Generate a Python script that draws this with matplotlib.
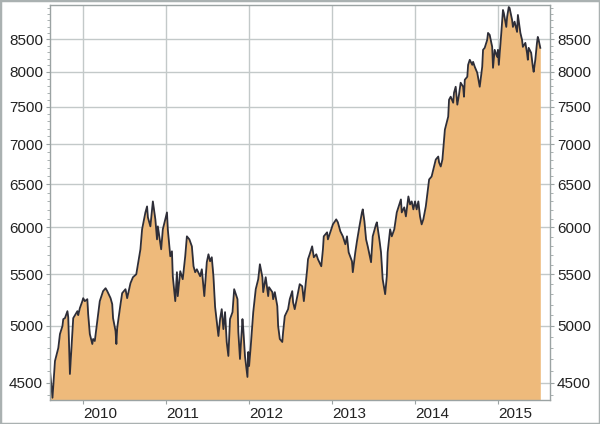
import matplotlib
matplotlib.use('Agg')
import matplotlib.pyplot as plt
from matplotlib.patches import Rectangle
from matplotlib.ticker import FixedLocator, NullFormatter, FuncFormatter

# index level (decimal year, value)
years = [2009.60, 2009.63, 2009.66, 2009.70, 2009.72, 2009.75, 2009.76, 2009.78, 2009.81, 2009.82,
         2009.84, 2009.87, 2009.88, 2009.93, 2009.94, 2009.96, 2009.99, 2010.00, 2010.02, 2010.05,
         2010.06, 2010.08, 2010.11, 2010.12, 2010.14, 2010.17, 2010.18, 2010.20, 2010.24, 2010.27,
         2010.29, 2010.33, 2010.35, 2010.36, 2010.39, 2010.40, 2010.41, 2010.45, 2010.47, 2010.51,
         2010.53, 2010.57, 2010.60, 2010.64, 2010.66, 2010.69, 2010.71, 2010.75, 2010.77, 2010.78,
         2010.81, 2010.83, 2010.84, 2010.87, 2010.89, 2010.90, 2010.94, 2010.96, 2011.01, 2011.02,
         2011.05, 2011.07, 2011.08, 2011.11, 2011.13, 2011.14, 2011.17, 2011.20, 2011.23, 2011.25,
         2011.28, 2011.31, 2011.33, 2011.35, 2011.37, 2011.41, 2011.43, 2011.46, 2011.49, 2011.51,
         2011.53, 2011.55, 2011.57, 2011.59, 2011.63, 2011.65, 2011.67, 2011.69, 2011.71, 2011.73,
         2011.75, 2011.77, 2011.80, 2011.82, 2011.86, 2011.87, 2011.89, 2011.92, 2011.93, 2011.95,
         2011.98, 2011.99, 2012.00, 2012.02, 2012.05, 2012.08, 2012.11, 2012.13, 2012.16, 2012.17,
         2012.20, 2012.23, 2012.24, 2012.28, 2012.29, 2012.31, 2012.34, 2012.35, 2012.37, 2012.40,
         2012.41, 2012.43, 2012.47, 2012.49, 2012.52, 2012.53, 2012.55, 2012.59, 2012.61, 2012.64,
         2012.66, 2012.70, 2012.71, 2012.73, 2012.76, 2012.78, 2012.81, 2012.83, 2012.87, 2012.89,
         2012.90, 2012.94, 2012.95, 2012.99, 2013.01, 2013.05, 2013.07, 2013.10, 2013.13, 2013.16,
         2013.18, 2013.20, 2013.24, 2013.25, 2013.28, 2013.30, 2013.33, 2013.36, 2013.37, 2013.39,
         2013.41, 2013.43, 2013.47, 2013.49, 2013.53, 2013.54, 2013.57, 2013.59, 2013.61, 2013.64,
         2013.66, 2013.67, 2013.70, 2013.72, 2013.75, 2013.78, 2013.83, 2013.84, 2013.87, 2013.89,
         2013.92, 2013.94, 2013.96, 2013.98, 2014.00, 2014.02, 2014.04, 2014.06, 2014.08, 2014.10,
         2014.13, 2014.16, 2014.17, 2014.20, 2014.23, 2014.25, 2014.28, 2014.29, 2014.31, 2014.33,
         2014.35, 2014.36, 2014.39, 2014.40, 2014.41, 2014.43, 2014.46, 2014.47, 2014.49, 2014.51,
         2014.53, 2014.55, 2014.58, 2014.59, 2014.60, 2014.63, 2014.64, 2014.66, 2014.69, 2014.70,
         2014.72, 2014.75, 2014.78, 2014.81, 2014.82, 2014.84, 2014.87, 2014.88, 2014.90, 2014.93,
         2014.94, 2014.96, 2014.99, 2015.00, 2015.01, 2015.04, 2015.06, 2015.07, 2015.10, 2015.11,
         2015.13, 2015.14, 2015.17, 2015.18, 2015.20, 2015.23, 2015.24, 2015.27, 2015.29, 2015.30,
         2015.33, 2015.35, 2015.36, 2015.37, 2015.40, 2015.42, 2015.43, 2015.45, 2015.47, 2015.48,
         2015.49, 2015.51]
values = [4601, 4378, 4686, 4800, 4926, 4999, 5064, 5073, 5139, 5082,
          4575, 4953, 5073, 5139, 5101, 5168, 5235, 5264, 5235, 5254,
          5111, 4926, 4836, 4881, 4863, 5045, 5111, 5235, 5333, 5362,
          5333, 5264, 5206, 5073, 4953, 4836, 4981, 5206, 5313, 5352,
          5264, 5412, 5472, 5502, 5605, 5762, 5979, 6169, 6238, 6113,
          6012, 6204, 6296, 6090, 5869, 6012, 5762, 5979, 6169, 5979,
          5688, 5741, 5482, 5235, 5523, 5284, 5533, 5452, 5688, 5902,
          5869, 5794, 5584, 5523, 5553, 5482, 5553, 5284, 5626, 5709,
          5636, 5678, 5482, 5180, 4908, 5064, 5158, 4971, 5130, 4854,
          4730, 5064, 5130, 5352, 5254, 4944, 4704, 5064, 4971, 4730,
          4550, 4765, 4643, 4818, 5130, 5352, 5452, 5605, 5472, 5323,
          5472, 5284, 5372, 5323, 5254, 5323, 5187, 4999, 4881, 4854,
          4944, 5092, 5158, 5254, 5333, 5225, 5158, 5323, 5402, 5382,
          5235, 5553, 5657, 5709, 5794, 5678, 5709, 5657, 5584, 5762,
          5902, 5946, 5869, 5979, 6034, 6090, 6057, 5957, 5902, 5816,
          5902, 5730, 5636, 5523, 5730, 5848, 6012, 6169, 6204, 6068,
          5869, 5794, 5626, 5902, 6034, 6057, 5869, 5730, 5452, 5303,
          5482, 5730, 5979, 5902, 5979, 6169, 6319, 6169, 6227, 6124,
          6354, 6261, 6296, 6204, 6296, 6204, 6296, 6124, 6034, 6090,
          6238, 6473, 6557, 6593, 6716, 6803, 6841, 6766, 6716, 6803,
          7059, 7190, 7324, 7365, 7599, 7642, 7557, 7698, 7784, 7530,
          7670, 7842, 7784, 7642, 7885, 7929, 8106, 8182, 8106, 8151,
          8077, 7988, 7784, 8077, 8334, 8365, 8489, 8599, 8568, 8380,
          8062, 8334, 8227, 8334, 8106, 8599, 8972, 8923, 8695, 8857,
          9022, 9005, 8808, 8695, 8780, 8615, 8890, 8599, 8489, 8380,
          8442, 8288, 8182, 8365, 8288, 8077, 8002, 8182, 8442, 8536,
          8489, 8365]

year_ticks = [2010, 2011, 2012, 2013, 2014, 2015]
value_ticks = [4500, 5000, 5500, 6000, 6500, 7000, 7500, 8000, 8500]
minor_ticks = list(range(4400, 9100, 100))

plt.rcParams['font.family'] = ['Liberation Sans', 'DejaVu Sans']

fig = plt.figure(figsize=(6, 4.24), dpi=100)
ax = fig.add_axes([50/600, 24/424, 500/600, 395/424])

ax.set_yscale('log')
ax.fill_between(years, values, 4300, color='#EEBA7B', linewidth=0, zorder=2)
ax.plot(years, values, color='#2e2e38', linewidth=1.3, zorder=3)

ax.set_xlim(2009.60, 2015.627)
ax.set_ylim(4360, 9055)

ax.yaxis.set_major_locator(FixedLocator(value_ticks))
ax.yaxis.set_major_formatter(FuncFormatter(lambda v, p: '%d' % v))
ax.yaxis.set_minor_locator(FixedLocator(minor_ticks))
ax.yaxis.set_minor_formatter(NullFormatter())
ax.set_xticks(year_ticks)
ax.set_xticklabels([str(y) for y in year_ticks])
plt.setp(ax.get_xticklabels(), ha='left')

ax.grid(color='#c3c9c9', linewidth=1, zorder=1)
ax.set_axisbelow(True)
for s in ax.spines.values():
    s.set_color('#9ba3a3')
    s.set_linewidth(1)
    s.set_zorder(4)

ax.tick_params(axis='y', which='both', left=True, right=True, labelleft=True, labelright=True,
               direction='out', colors='#9ba3a3', labelcolor='#222222', labelsize=11)
ax.tick_params(axis='y', which='major', length=3, pad=2)
ax.tick_params(axis='y', which='minor', length=2)
ax.tick_params(axis='x', which='major', length=3, pad=2, direction='out',
               colors='#9ba3a3', labelcolor='#222222', labelsize=11)

fig.patches.append(Rectangle((0, 0), 1, 1, transform=fig.transFigure, fill=False,
                             edgecolor='#aab1b1', linewidth=2.5))

plt.savefig('out.png', dpi=100)
plt.close()
